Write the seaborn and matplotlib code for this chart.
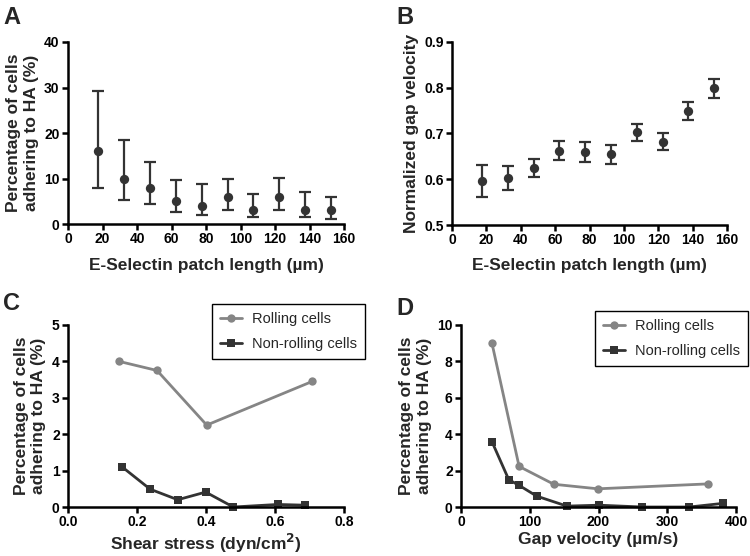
import numpy as np
import pandas as pd
import matplotlib
matplotlib.use("Agg")
import matplotlib.pyplot as plt
import seaborn as sns

# panel A / B : patch length series
patch_len = [17.5, 32.5, 47.5, 62.5, 77.5, 92.5, 107.5, 122.5, 137.5, 152.5]
adhere_pct = [16, 10, 8, 5, 4, 6, 3, 6, 3, 3]
adhere_lo = [8, 5.2, 4.5, 2.6, 2.0, 3.0, 1.6, 3.1, 1.5, 1.2]
adhere_hi = [29.3, 18.5, 13.6, 9.7, 8.9, 9.9, 6.5, 10.2, 7.0, 6.0]

gap_norm = [0.597, 0.603, 0.625, 0.662, 0.660, 0.655, 0.703, 0.682, 0.749, 0.799]
gap_lo = [0.561, 0.577, 0.604, 0.641, 0.638, 0.634, 0.684, 0.663, 0.729, 0.777]
gap_hi = [0.632, 0.629, 0.644, 0.684, 0.682, 0.674, 0.720, 0.701, 0.768, 0.819]

# panel C : shear stress
shear_roll_x = [0.148, 0.258, 0.402, 0.708]
shear_roll_y = [4.0, 3.75, 2.25, 3.45]
shear_non_x = [0.157, 0.238, 0.318, 0.399, 0.479, 0.608, 0.688]
shear_non_y = [1.1, 0.49, 0.2, 0.41, 0.0, 0.07, 0.05]

# panel D : gap velocity
vel_roll_x = [45, 84.5, 135, 199, 359]
vel_roll_y = [9.0, 2.23, 1.25, 1.0, 1.27]
vel_non_x = [45, 69.5, 84.5, 110, 154, 201, 264, 332, 381]
vel_non_y = [3.59, 1.5, 1.19, 0.6, 0.05, 0.1, 0.0, 0.0, 0.2]

sns.set_style("ticks")
plt.rcParams['font.family'] = ['Liberation Sans', 'DejaVu Sans']
plt.rcParams['font.weight'] = 'bold'

DARK = '#333333'
GREY = '#858585'

fig = plt.figure(figsize=(7.5, 5.56), dpi=100)
axA = fig.add_axes([0.0907, 0.597, 0.368, 0.3275])
axB = fig.add_axes([0.6027, 0.5953, 0.3666, 0.3292])
axC = fig.add_axes([0.0907, 0.0881, 0.368, 0.3274])
axD = fig.add_axes([0.6147, 0.0881, 0.3666, 0.3274])


def style_axes(ax, size):
    for s in ['top', 'right']:
        ax.spines[s].set_visible(False)
    for s in ['left', 'bottom']:
        ax.spines[s].set_linewidth(1.8)
        ax.spines[s].set_color('black')
    ax.tick_params(width=1.8, length=4, labelsize=size, colors='black', pad=2)
    for lab in ax.get_xticklabels() + ax.get_yticklabels():
        lab.set_fontweight('bold')


def dot_err(ax, x, y, lo, hi):
    y = np.array(y)
    err = [y - np.array(lo), np.array(hi) - y]
    ax.errorbar(x, y, yerr=err, fmt='none', ecolor=DARK, elinewidth=1.6,
                capsize=4, capthick=1.6, zorder=2)
    sns.scatterplot(x=x, y=y, ax=ax, color=DARK, s=45, edgecolor=DARK,
                    linewidth=0, zorder=3, legend=False)


# A
dot_err(axA, patch_len, adhere_pct, adhere_lo, adhere_hi)
axA.set_xlim(0, 160)
axA.set_ylim(0, 40)
axA.set_xticks(np.arange(0, 161, 20))
axA.set_yticks(np.arange(0, 41, 10))
axA.set_xlabel('E-Selectin patch length (µm)', fontsize=12.5, fontweight='bold',
               labelpad=8)
axA.set_ylabel('Percentage of cells\nadhering to HA (%)', fontsize=12.5,
               fontweight='bold', labelpad=4)
style_axes(axA, 10)

# B
dot_err(axB, patch_len, gap_norm, gap_lo, gap_hi)
axB.set_xlim(0, 160)
axB.set_ylim(0.5, 0.9)
axB.set_xticks(np.arange(0, 161, 20))
axB.set_yticks([0.5, 0.6, 0.7, 0.8, 0.9])
axB.set_xlabel('E-Selectin patch length (µm)', fontsize=12.5, fontweight='bold',
               labelpad=8)
axB.set_ylabel('Normalized gap velocity', fontsize=12.5, fontweight='bold', labelpad=4)
style_axes(axB, 10)


def two_lines(ax, rx, ry, nx, ny):
    dfr = pd.DataFrame({'x': rx, 'y': ry})
    dfn = pd.DataFrame({'x': nx, 'y': ny})
    sns.lineplot(data=dfr, x='x', y='y', ax=ax, color=GREY, marker='o',
                 markersize=6, markeredgewidth=0, linewidth=2,
                 label='Rolling cells', clip_on=False, sort=False)
    sns.lineplot(data=dfn, x='x', y='y', ax=ax, color=DARK, marker='s',
                 markersize=6, markeredgewidth=0, linewidth=2,
                 label='Non-rolling cells', clip_on=False, sort=False)


def frame_legend(ax, right, top):
    leg = ax.legend(loc='upper right', bbox_to_anchor=(right, top),
                    bbox_transform=fig.transFigure, borderaxespad=0,
                    frameon=True, fancybox=False, edgecolor='black',
                    prop={'size': 10.5, 'weight': 'normal'}, handlelength=1.5,
                    handletextpad=0.7, labelspacing=0.75, borderpad=0.55)
    leg.get_frame().set_linewidth(1.0)
    leg.get_frame().set_alpha(1)


# C
two_lines(axC, shear_roll_x, shear_roll_y, shear_non_x, shear_non_y)
axC.set_xlim(0, 0.8)
axC.set_ylim(0, 5)
axC.set_xticks([0.0, 0.2, 0.4, 0.6, 0.8])
axC.set_xticklabels(['0.0', '0.2', '0.4', '0.6', '0.8'])
axC.set_yticks(range(0, 6))
axC.set_xlabel('Shear stress (dyn/cm$\\mathbf{^2}$)', fontsize=12.5, fontweight='bold',
               labelpad=2)
axC.set_ylabel('Percentage of cells\nadhering to HA (%)', fontsize=12.5,
               fontweight='bold', labelpad=4)
style_axes(axC, 10)
frame_legend(axC, 0.487, 0.4532)

# D
two_lines(axD, vel_roll_x, vel_roll_y, vel_non_x, vel_non_y)
axD.set_xlim(0, 400)
axD.set_ylim(0, 10)
axD.set_xticks([0, 100, 200, 300, 400])
axD.set_yticks([0, 2, 4, 6, 8, 10])
axD.set_xlabel('Gap velocity (µm/s)', fontsize=12.5, fontweight='bold', labelpad=2)
axD.set_ylabel('Percentage of cells\nadhering to HA (%)', fontsize=12.5,
               fontweight='bold', labelpad=4)
style_axes(axD, 10)
frame_legend(axD, 0.997, 0.4406)

# panel letters
for lbl, x, y in [('A', 0.004, 0.99), ('B', 0.529, 0.99),
                  ('C', 0.004, 0.475), ('D', 0.529, 0.465)]:
    fig.text(x, y, lbl, fontsize=17, fontweight='bold', va='top', ha='left')

fig.savefig('out.png', dpi=100)
